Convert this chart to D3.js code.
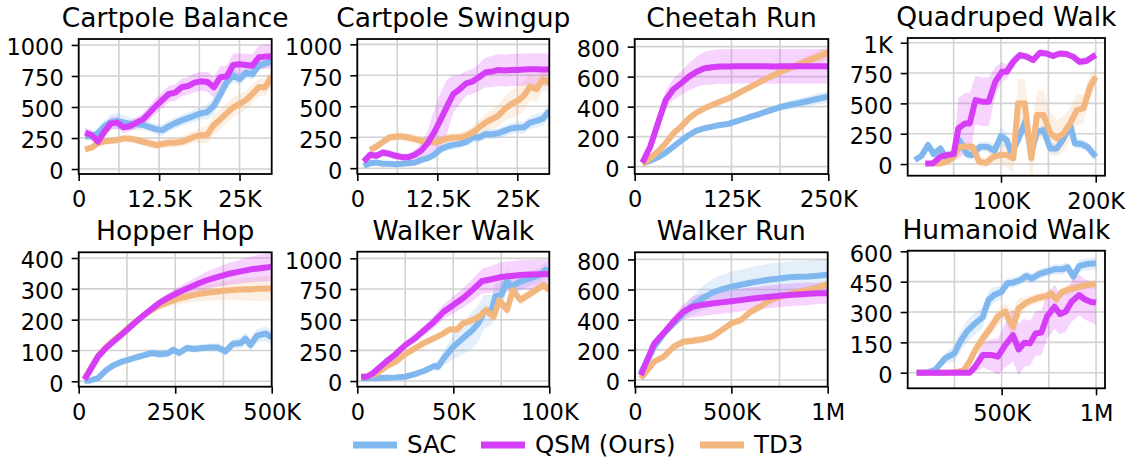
<!DOCTYPE html>
<html><head><meta charset="utf-8">
<script src="https://cdn.jsdelivr.net/npm/d3@7"></script>
<style>
html,body{margin:0;padding:0;background:#fff;}
svg{display:block;font-family:"DejaVu Sans",sans-serif;}
</style></head>
<body><svg id="c" width="1128" height="459"></svg>
<script>
// ---------------- DATA (x in thousands of steps) ----------------
const seriesNames = ["SAC", "QSM (Ours)", "TD3"];

// Cartpole Balance
const cbX = [1,2,3,4,5,6,7,8,9,10,11,12,13,14,15,16,17,18,19,20,21,22,23,24,25,26,27,28,29,30];
const cbSAC = [266,262,290,345,378,388,375,364,362,355,338,322,312,345,370,392,410,430,448,460,510,600,700,755,725,775,765,835,850,872];
const cbQSM = [293,274,220,301,368,374,336,347,374,400,454,508,556,605,616,659,669,696,707,702,659,739,745,839,844,839,833,901,906,906];
const cbTD3 = [159,172,207,223,228,234,247,245,234,220,207,194,202,212,212,220,239,261,272,277,355,400,449,497,524,556,605,659,659,745];
const cbSACsd = [30,30,40,50,60,65,60,50,45,40,40,40,45,45,45,45,45,50,50,60,70,70,60,55,50,45,45,40,40,40];
const cbQSMsd = [40,40,40,45,50,50,45,45,45,50,60,65,65,65,65,70,70,75,75,80,85,90,90,90,90,90,95,95,100,100];
const cbTD3sd = [25,25,25,25,30,30,30,30,30,30,35,35,35,40,40,40,45,50,60,70,80,80,80,80,80,75,75,70,70,70];

// Cartpole Swingup
const csX = [1,2,3,4,5,6,7,8,9,10,11,12,13,14,15,16,17,18,19,20,21,22,23,24,25,26,27,28,29,30];
const csTD3x = [2,3,4,5,6,7,8,9,10,11,12,13,14,15,16,17,18,19,20,21,22,23,24,25,26,27,28,29,30];
const csSAC = [19,40,46,35,35,32,35,40,46,67,81,108,153,175,188,196,212,247,247,274,274,282,301,320,328,328,368,382,400,462];
const csQSM = [54,108,100,126,116,100,89,89,108,142,202,288,390,497,599,637,685,699,734,772,780,793,788,793,793,796,798,798,796,796];
const csTD3 = [148,175,212,247,255,255,247,234,220,212,212,220,239,247,247,261,288,328,368,395,422,476,516,543,583,659,637,718,691];
const csSACsd = [15,15,15,15,15,15,15,15,20,20,25,30,35,35,35,35,35,40,40,40,40,40,45,45,45,50,50,55,55,60];
const csQSMsd = [30,30,30,30,30,30,30,30,40,60,100,180,220,220,150,120,100,100,110,120,125,130,130,130,130,130,130,130,130,130];
const csTD3sd = [30,30,30,35,35,35,35,35,35,35,35,35,40,40,40,45,50,60,70,80,90,100,110,120,120,110,100,90,80];

// Cheetah Run
const chX = [10,20,30,40,50,60,70,80,90,100,110,120,130,140,150,160,170,180,190,200,210,220,230,240,250];
const chSAC = [22,40,62,93,133,173,211,240,256,267,278,284,300,316,333,349,367,384,400,411,422,433,444,456,467];
const chQSM = [27,133,289,444,516,556,600,633,656,662,667,668,669,669,670,669,669,668,669,669,670,669,669,669,669];
const chTD3 = [18,56,100,156,222,267,322,360,389,411,433,453,478,507,533,560,587,611,636,656,678,700,720,740,760];
const chSACsd = [10,10,12,14,15,15,15,15,15,15,15,15,15,15,18,20,20,22,25,28,30,32,35,38,40];
const chQSMsd = [10,30,50,60,70,80,90,100,110,115,115,115,115,115,115,115,115,115,115,115,115,115,115,115,115];
const chTD3sd = [10,12,15,15,15,15,15,15,15,15,15,15,15,15,15,15,18,20,22,25,28,30,35,40,45];

// Quadruped Walk
const qwSACx = [9,16,23,29,36,43,50,56,64,69,78,85,93,100,106,111,118,126,132,138,145,152,159,165,173,178,185,192,200];
const qwSAC = [33,66,157,82,129,38,60,198,82,74,143,143,110,230,198,88,198,357,88,266,280,129,129,198,321,170,165,137,60];
const qwSACsd = [20,20,30,30,30,30,30,40,40,40,40,40,60,80,60,50,50,40,40,40,40,40,40,40,40,40,40,40,30];
const qwQSMx = [20,28,36,43,50,55,62,67,73,80,87,94,101,106,113,120,127,134,141,148,155,162,169,176,183,190,200];
const qwQSM = [5,5,60,74,82,294,335,335,527,514,514,679,761,761,843,898,885,857,918,912,890,912,907,885,843,849,900];
const qwQSMsd = [5,5,20,30,40,250,250,250,200,200,200,120,80,60,50,30,30,30,30,25,25,25,25,25,30,30,30];
const qwTD3x = [30,36,43,50,56,63,70,77,84,92,99,106,113,118,125,132,138,145,152,159,166,173,180,187,194,200];
const qwTD3 = [5,5,20,60,143,143,143,19,10,60,74,74,47,500,500,47,404,404,253,212,253,335,445,459,637,720];
const qwTD3sd = [10,10,20,30,40,40,40,40,40,60,80,100,120,200,200,200,200,200,180,150,150,130,130,120,100,80];

// Hopper Hop
const hhX = [15,30,50,70,90,110,130,150,170,190,210,230,250,270,290,310,330,350,370,390,410,430,450,470,490,500];
const hhQSM = [6,37,80,107,129,150,172,195,216,236,255,270,283,295,306,317,327,335,342,349,354,359,364,367,370,372];
const hhTD3 = [8,40,82,110,132,153,175,196,215,232,246,256,265,272,278,283,287,290,293,295,297,298,299,300,301,301];
const hhQSMsd = [3,5,6,8,8,8,9,10,11,12,14,16,18,20,22,25,28,30,33,36,38,40,42,44,46,48];
const hhTD3sd = [3,5,6,8,8,8,9,10,11,12,14,16,18,20,22,24,26,28,30,32,34,36,38,40,40,40];
const hhSACx = [15,30,50,70,90,110,130,150,170,190,210,230,245,260,280,300,320,340,360,380,400,420,432,445,462,485,500];
const hhSAC = [2,3,10,35,52,63,70,78,85,92,88,90,102,92,108,105,108,110,110,97,122,124,138,118,148,155,142];
const hhSACsd = [3,4,6,8,10,10,10,10,10,12,12,12,12,12,12,12,12,12,14,14,16,18,20,20,22,24,25];

// Walker Walk
const wwQSMx = [2,5,8,10,15,20,25,30,35,40,45,50,55,60,65,70,75,80,85,90,95,100];
const wwQSM = [35,35,62,90,158,220,293,348,416,484,565,620,675,742,815,830,848,856,864,868,870,872];
const wwQSMsd = [10,10,12,15,20,25,30,35,40,50,60,70,80,90,100,110,120,120,120,120,120,120];
const wwTD3x = [2,5,10,15,20,25,30,35,40,45,48,52,55,60,64,67,71,74,78,81,85,89,93,97,100];
const wwTD3 = [35,35,62,117,158,220,266,312,348,389,421,421,470,497,530,579,524,660,579,742,660,701,742,783,742];
const wwTD3sd = [10,10,15,20,25,25,25,25,25,25,25,30,30,30,35,40,40,40,40,40,40,40,40,40,40];
const wwSACx = [2,5,10,15,20,25,30,35,40,42,45,50,55,60,63,66,70,72,75,78,80,85,90,95,98,100];
const wwSAC = [22,22,22,27,30,35,57,84,122,117,185,280,348,416,470,565,579,693,701,818,769,810,837,864,905,856];
const wwSACsd = [5,5,5,5,8,10,15,20,30,40,60,100,130,150,150,140,120,100,100,90,80,70,60,60,60,60];

// Walker Run
const wrX = [30,100,150,200,250,300,350,400,450,500,550,600,650,700,750,800,850,900,950,1000];
const wrSAC = [44,221,309,376,442,497,541,579,601,619,632,645,656,667,674,681,685,687,692,698];
const wrQSM = [33,243,314,387,453,486,499,508,515,522,530,539,546,552,559,564,568,572,575,575];
const wrTD3 = [11,122,155,221,254,261,270,287,331,376,398,453,486,530,552,570,586,597,614,636];
const wrSACsd = [10,20,25,30,40,60,80,90,95,100,100,105,105,105,105,105,105,105,105,105];
const wrQSMsd = [10,20,30,40,50,70,75,75,75,75,75,75,75,75,75,75,75,75,70,70];
const wrTD3sd = [8,15,20,22,25,25,25,25,25,25,25,25,25,25,25,25,25,25,25,25];

// Humanoid Walk
const hwQSMx = [50,100,150,200,250,300,330,360,400,450,480,520,560,590,620,650,680,710,740,780,810,840,870,910,940,970,1000];
const hwQSM = [0,0,0,0,0,0,0,30,87,87,79,137,186,115,148,145,194,198,277,326,290,302,351,384,363,351,346];
const hwQSMsd = [2,2,2,2,2,2,5,30,60,80,90,110,130,130,120,110,110,110,110,110,100,100,100,100,100,100,110];
const hwSACx = [50,100,150,200,250,280,320,360,400,430,460,500,530,560,600,630,660,700,740,780,820,850,880,910,950,1000];
const hwSAC = [0,0,16,71,96,153,208,244,274,359,384,400,442,445,458,478,466,488,499,511,511,521,475,527,537,541];
const hwSACsd = [2,2,10,25,40,50,55,55,50,45,40,30,25,25,25,25,25,25,25,25,25,25,30,30,30,30];
const hwTD3x = [50,100,150,200,250,270,300,330,360,400,440,480,520,540,560,590,630,660,700,740,760,790,820,860,900,950,1000];
const hwTD3 = [0,0,0,0,2,5,13,54,112,170,219,277,302,260,227,318,346,359,372,379,392,363,400,412,422,433,438];
const hwTD3sd = [1,1,1,2,3,5,10,20,30,35,40,40,40,60,80,50,30,25,25,25,25,25,25,25,20,20,20];

// Ticks
const yT1000 = [0,250,500,750,1000];
const yT800 = [0,200,400,600,800];
const yT400 = [0,100,200,300,400];
const yT600 = [0,150,300,450,600];
const yL1K = ["0","250","500","750","1K"];
const xTcart = [0,12.5,25], xLcart = ["0","12.5K","25K"], xMcart = [6.25,18.75];
const xTch = [0,125,250], xLch = ["0","125K","250K"], xMch = [62.5,187.5];
const xTqw = [100,200], xLqw = ["100K","200K"], xMqw = [50,150];
const xThh = [0,250,500], xLhh = ["0","250K","500K"], xMhh = [125,375];
const xTww = [0,50,100], xLww = ["0","50K","100K"], xMww = [25,75];
const xTwr = [0,500,1000], xLwr = ["0","500K","1M"], xMwr = [250,750];
const xThw = [500,1000], xLhw = ["500K","1M"], xMhw = [250,750];

// ---------------- DRAWING ----------------
const colors = {"SAC":"#7fb7ee", "QSM (Ours)":"#d63df6", "TD3":"#f2b67e"};
const drawOrder = ["SAC","TD3","QSM (Ours)"];

const panels = [
  {title:"Cartpole Balance", box:[78.7,39,271.7,174], xd:[0,30], yd:[-40,1048], xt:xTcart, xl:xLcart, xm:xMcart, yt:yT1000,
   s:{"SAC":[cbX,cbSAC,cbSACsd],"QSM (Ours)":[cbX,cbQSM,cbQSMsd],"TD3":[cbX,cbTD3,cbTD3sd]}},
  {title:"Cartpole Swingup", box:[357.3,39,549.3,174], xd:[0,30], yd:[-47,1043], xt:xTcart, xl:xLcart, xm:xMcart, yt:yT1000,
   s:{"SAC":[csX,csSAC,csSACsd],"QSM (Ours)":[csX,csQSM,csQSMsd],"TD3":[csTD3x,csTD3,csTD3sd]}},
  {title:"Cheetah Run", box:[634.7,39,828.3,174], xd:[0,250], yd:[-49,851], xt:xTch, xl:xLch, xm:xMch, yt:yT800,
   s:{"SAC":[chX,chSAC,chSACsd],"QSM (Ours)":[chX,chQSM,chQSMsd],"TD3":[chX,chTD3,chTD3sd]}},
  {title:"Quadruped Walk", box:[907.7,38,1105,175.7], xd:[1.5,209.8], yd:[-96,1039], xt:xTqw, xl:xLqw, xm:xMqw, yt:yT1000, yl:yL1K,
   s:{"SAC":[qwSACx,qwSAC,qwSACsd],"QSM (Ours)":[qwQSMx,qwQSM,qwQSMsd],"TD3":[qwTD3x,qwTD3,qwTD3sd]}},
  {title:"Hopper Hop", box:[78.7,252.3,271.7,386.7], xd:[0,500], yd:[-17.5,418.5], xt:xThh, xl:xLhh, xm:xMhh, yt:yT400,
   s:{"SAC":[hhSACx,hhSAC,hhSACsd],"QSM (Ours)":[hhX,hhQSM,hhQSMsd],"TD3":[hhX,hhTD3,hhTD3sd]}},
  {title:"Walker Walk", box:[357.3,251.7,549.3,386.7], xd:[0,100], yd:[-46,1054], xt:xTww, xl:xLww, xm:xMww, yt:yT1000,
   s:{"SAC":[wwSACx,wwSAC,wwSACsd],"QSM (Ours)":[wwQSMx,wwQSM,wwQSMsd],"TD3":[wwTD3x,wwTD3,wwTD3sd]}},
  {title:"Walker Run", box:[635,252.3,827.7,386.7], xd:[0,1000], yd:[-44,847], xt:xTwr, xl:xLwr, xm:xMwr, yt:yT800,
   s:{"SAC":[wrX,wrSAC,wrSACsd],"QSM (Ours)":[wrX,wrQSM,wrQSMsd],"TD3":[wrX,wrTD3,wrTD3sd]}},
  {title:"Humanoid Walk", box:[907.7,250.7,1105,388.3], xd:[2.5,1047.5], yd:[-77,603], xt:xThw, xl:xLhw, xm:xMhw, yt:yT600,
   s:{"SAC":[hwSACx,hwSAC,hwSACsd],"QSM (Ours)":[hwQSMx,hwQSM,hwQSMsd],"TD3":[hwTD3x,hwTD3,hwTD3sd]}}
];

const svg = d3.select("#c");
const defs = svg.append("defs");
const TICK_FS = 22.5, TITLE_FS = 26.5;

panels.forEach((p, i) => {
  const [x0,y0,x1,y1] = p.box;
  const x = d3.scaleLinear().domain(p.xd).range([x0,x1]);
  const y = d3.scaleLinear().domain(p.yd).range([y1,y0]);
  const g = svg.append("g");
  const cid = "clip"+i;
  defs.append("clipPath").attr("id",cid).append("rect")
     .attr("x",x0).attr("y",y0).attr("width",x1-x0).attr("height",y1-y0);

  // grid
  const grid = g.append("g").attr("stroke","#d2d2d2").attr("stroke-width",1.6);
  p.xt.concat(p.xm).forEach(v => grid.append("line").attr("x1",x(v)).attr("x2",x(v)).attr("y1",y0).attr("y2",y1));
  p.yt.forEach(v => grid.append("line").attr("x1",x0).attr("x2",x1).attr("y1",y(v)).attr("y2",y(v)));

  const plot = g.append("g").attr("clip-path",`url(#${cid})`);
  // bands
  drawOrder.forEach(name => {
    const [xs,ys,sd] = p.s[name];
    const pts = xs.map((v,k)=>({x:v,y:ys[k],s:sd[k]}));
    plot.append("path").datum(pts)
      .attr("fill",colors[name]).attr("fill-opacity",0.22).attr("stroke","none")
      .attr("d", d3.area().x(d=>x(d.x)).y0(d=>y(d.y-d.s)).y1(d=>y(d.y+d.s)));
  });
  // lines
  drawOrder.forEach(name => {
    const [xs,ys] = p.s[name];
    const pts = xs.map((v,k)=>({x:v,y:ys[k]}));
    plot.append("path").datum(pts)
      .attr("fill","none").attr("stroke",colors[name]).attr("stroke-width",6)
      .attr("stroke-linejoin","round").attr("stroke-linecap","butt")
      .attr("d", d3.line().x(d=>x(d.x)).y(d=>y(d.y)));
  });

  // axes
  const ax = d3.axisBottom(x).tickValues(p.xt).tickFormat((d,k)=>p.xl[k]).tickSize(7).tickPadding(10);
  const ay = d3.axisLeft(y).tickValues(p.yt).tickFormat((d,k)=>p.yl ? p.yl[k] : String(d)).tickSize(7).tickPadding(8);
  const gx = g.append("g").attr("transform",`translate(0,${y1})`).call(ax);
  const gy = g.append("g").attr("transform",`translate(${x0},0)`).call(ay);
  [gx,gy].forEach(a => {
    a.select(".domain").remove();
    a.selectAll(".tick line").attr("stroke","#000").attr("stroke-width",1.6);
    a.selectAll(".tick text").attr("fill","#000").style("font-size",TICK_FS+"px").style("font-family","DejaVu Sans");
  });
  gy.selectAll(".tick text").attr("dy","0.44em");

  // frame
  g.append("rect").attr("x",x0).attr("y",y0).attr("width",x1-x0).attr("height",y1-y0)
    .attr("fill","none").attr("stroke","#000").attr("stroke-width",1.8);

  // title
  g.append("text").attr("x",(x0+x1)/2).attr("y",y0-12).attr("text-anchor","middle")
    .style("font-size",TITLE_FS+"px").attr("fill","#000").text(p.title);
});

// legend
const legX = [353, 481, 700];
const leg = svg.append("g");
seriesNames.forEach((name,k) => {
  leg.append("line").attr("x1",legX[k]).attr("x2",legX[k]+44).attr("y1",445).attr("y2",445)
    .attr("stroke",colors[name]).attr("stroke-width",7);
  leg.append("text").attr("x",legX[k]+54).attr("y",452.5).style("font-size","24.5px").attr("fill","#000").text(name);
});
</script>
</body></html>
